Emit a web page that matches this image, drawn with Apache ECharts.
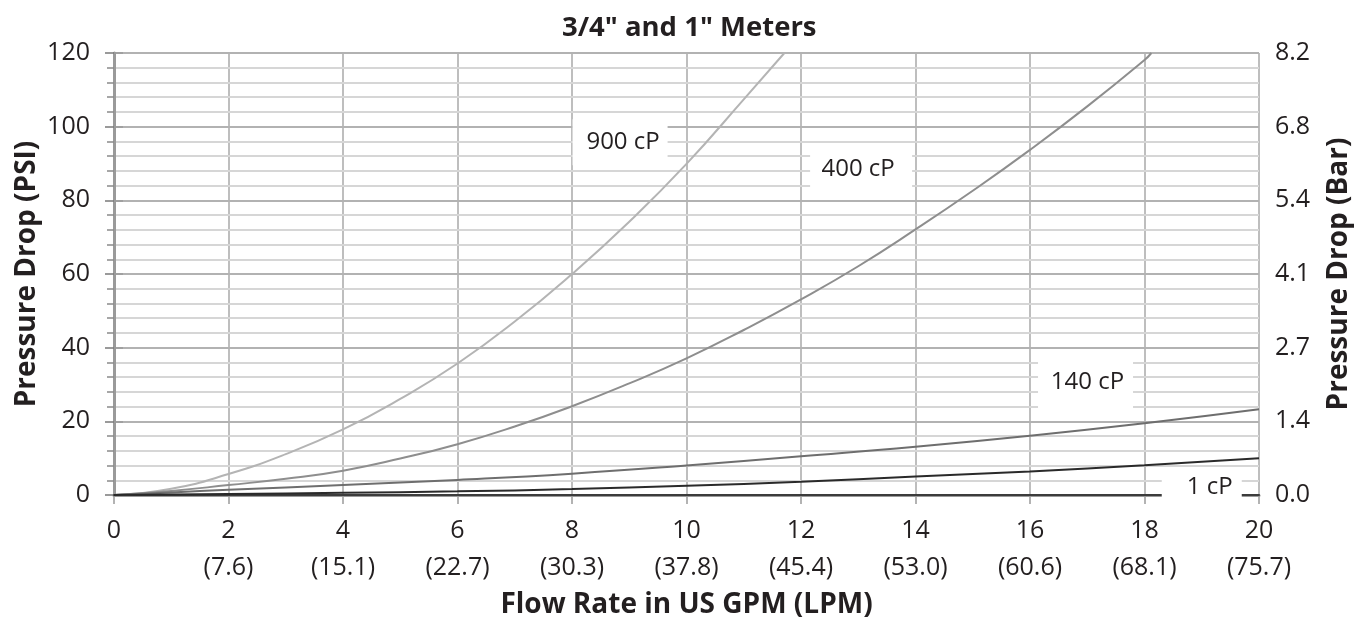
<!DOCTYPE html>
<html>
<head>
<meta charset="utf-8">
<script src="https://cdn.jsdelivr.net/npm/echarts@6/dist/echarts.min.js"></script>
<style>
html,body{margin:0;padding:0;background:#fff;}
#chart{width:1356px;height:618px;}
</style>
</head>
<body>
<div id="chart"></div>
<script>
// ---- data ----
const gpmTicks = [0, 2, 4, 6, 8, 10, 12, 14, 16, 18, 20];
const lpmTicks = ['', '7.6', '15.1', '22.7', '30.3', '37.8', '45.4', '53.0', '60.6', '68.1', '75.7'];
const barTicks = ['0.0', '1.4', '2.7', '4.1', '5.4', '6.8', '8.2'];

const cp900 = [[0,0],[1,1.7],[2,5.7],[3,11.1],[4,17.8],[5,26.1],[6,35.7],[7,47.1],[8,60],[9,74.2],[10,89.9],[11,107.4],[11.71,120]];
const cp400 = [[0,0],[1,1.1],[2,2.7],[3,4.4],[4,6.6],[5,9.9],[6,13.8],[7,18.6],[8,24.1],[9,30.3],[10,37.1],[11,44.8],[12,53.1],[13,62.1],[14,72.1],[15,82.6],[16,93.7],[17,105.5],[18,118.1],[18.12,120]];
const cp140 = [[0,0],[1,0.7],[2,1.4],[4,2.7],[6,4.1],[8,5.8],[10,8.0],[12,10.5],[14,13.1],[16,16.1],[18,19.5],[20,23.3]];
const cp1 = [[0,0],[2,0.3],[4,0.6],[6,1.0],[8,1.6],[10,2.5],[12,3.6],[14,5.0],[16,6.4],[18,8.1],[20,10.0]];

const seriesNames = ['900 cP', '400 cP', '140 cP', '1 cP'];
// label boxes (data coordinates)
const labelAnchors = [[8.84, 95.8], [13.05, 88.0], [16.97, 30.1], [19.0, 2.2]];

// ---- styles ----
const FONT = 'Open Sans';
const TXT = '#231f20';
const lineColors = ['#b4b4b4', '#8e8e8e', '#6e6e6e', '#2a2a2a'];
const boxSizes = [[95, 46], [102, 46], [95, 56], [80, 30]];
const textOffsets = [[3, 0], [-3, -2], [2, -2], [8, 0]];
const curves = [cp900, cp400, cp140, cp1];

const chart = echarts.init(document.getElementById('chart'), null, {renderer: 'canvas'});

const series = curves.map((d, i) => ({
  name: seriesNames[i],
  type: 'line',
  data: d,
  smooth: true,
  symbol: 'none',
  clip: true,
  lineStyle: {color: lineColors[i], width: 2},
  z: 3,
  markPoint: {
    silent: true,
    symbol: 'rect',
    symbolSize: boxSizes[i],
    itemStyle: {color: '#fff'},
    z: 5,
    label: {
      show: true,
      formatter: seriesNames[i],
      offset: textOffsets[i],
      color: TXT,
      fontFamily: FONT,
      fontSize: 24
    },
    data: [{coord: labelAnchors[i]}]
  }
}));

const option = {
  backgroundColor: '#fff',
  animation: false,
  title: {
    text: '3/4" and 1" Meters',
    left: 557,
    top: 9,
    textStyle: {fontFamily: FONT, fontWeight: 'bold', fontSize: 27.5, color: TXT}
  },
  grid: {left: 114, right: 97, top: 53, bottom: 123, containLabel: false, outerBoundsMode: 'none'},
  xAxis: [{
    type: 'value',
    min: 0, max: 20, interval: 2,
    name: 'Flow Rate in US GPM (LPM)',
    nameLocation: 'middle',
    nameGap: 96,
    nameMoveOverlap: false,
    nameTextStyle: {fontFamily: FONT, fontWeight: 'bold', fontSize: 28, color: TXT},
    axisLine: {show: true, onZero: false, lineStyle: {color: '#9a9a9a', width: 3}},
    axisTick: {show: true, length: 9, lineStyle: {color: '#9a9a9a', width: 1.5}},
    axisLabel: {
      margin: 17,
      formatter: function (v) {
        const i = gpmTicks.indexOf(v);
        return lpmTicks[i] ? v + '\n(' + lpmTicks[i] + ')' : String(v);
      },
      fontFamily: FONT, fontSize: 25, color: TXT, lineHeight: 37
    },
    splitLine: {show: true, lineStyle: {color: '#a8a8a8', width: 1.5}}
  }, {
    type: 'value',
    position: 'top',
    min: 0, max: 20,
    z: 2,
    axisLine: {show: true, lineStyle: {color: '#3c3c3c', width: 2}},
    axisTick: {show: false},
    axisLabel: {show: false},
    splitLine: {show: false}
  }],
  yAxis: [{
    type: 'value',
    min: 0, max: 120, interval: 20,
    position: 'left',
    z: 1,
    name: 'Pressure Drop (PSI)',
    nameLocation: 'middle',
    nameRotate: 90,
    nameGap: 73,
    nameMoveOverlap: false,
    nameTextStyle: {fontFamily: FONT, fontWeight: 'bold', fontSize: 28, color: TXT},
    axisLine: {show: true, lineStyle: {color: '#6a6a6a', width: 2}},
    axisTick: {show: true, length: 9, lineStyle: {color: '#7a7a7a', width: 1.5}},
    minorTick: {show: true, splitNumber: 5, length: 7, lineStyle: {color: '#8a8a8a', width: 1.5}},
    axisLabel: {margin: 24, fontFamily: FONT, fontSize: 25, color: TXT},
    splitLine: {show: true, lineStyle: {color: '#b2b2b2', width: 2}},
    minorSplitLine: {show: true, lineStyle: {color: '#d6d6d6', width: 2}}
  }, {
    type: 'value',
    min: 0, max: 120, interval: 20,
    position: 'right',
    z: 1,
    name: 'Pressure Drop (Bar)',
    nameLocation: 'middle',
    nameRotate: 90,
    nameGap: 66,
    nameTextStyle: {fontFamily: FONT, fontWeight: 'bold', fontSize: 28, color: TXT},
    axisLine: {show: true, lineStyle: {color: '#9a9a9a', width: 3}},
    axisTick: {show: true, length: 9, lineStyle: {color: '#9a9a9a', width: 1.5}},
    axisLabel: {
      margin: 16,
      formatter: function (v) { return barTicks[Math.round(v / 20)]; },
      fontFamily: FONT, fontSize: 25, color: TXT
    },
    splitLine: {show: false}
  }],
  series: series
};

chart.setOption(option);
</script>
</body>
</html>
